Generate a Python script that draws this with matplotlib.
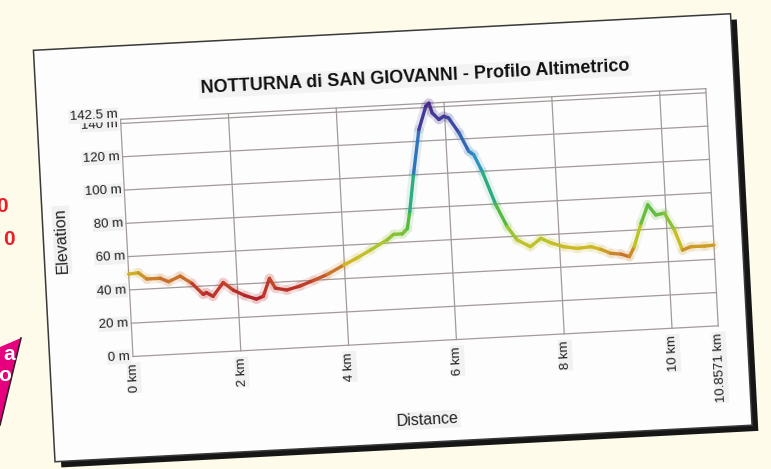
import numpy as np
import matplotlib
matplotlib.use('Agg')
import matplotlib.pyplot as plt
from matplotlib import transforms as mtrans
from matplotlib.collections import LineCollection
from matplotlib.patches import Polygon, Rectangle
from matplotlib.colors import LinearSegmentedColormap, Normalize

plt.rcParams['font.family'] = ['Liberation Sans', 'DejaVu Sans']

# ---------------- data ----------------
title = "NOTTURNA di SAN GIOVANNI - Profilo Altimetrico"
x_label = "Distance"
y_label = "Elevation"
total_km = 10.8571
max_elev = 142.5

distance_km = [0.00, 0.18, 0.33, 0.58, 0.73, 0.95, 1.16, 1.36, 1.42, 1.54,
               1.74, 1.92, 2.13, 2.34, 2.47, 2.60, 2.70, 2.91, 3.16, 3.42,
               3.67, 3.99, 4.24, 4.50, 4.82, 4.94, 5.10, 5.20, 5.26, 5.37,
               5.51, 5.66, 5.72, 5.77, 5.89, 5.98, 6.07, 6.25, 6.41, 6.50,
               6.64, 6.86, 7.05, 7.22, 7.46, 7.66, 7.84, 8.08, 8.33, 8.58,
               8.76, 8.94, 9.13, 9.28, 9.38, 9.53, 9.67, 9.81, 9.97, 10.14,
               10.27, 10.43, 10.68, 10.8571]
elevation_m = [49.5, 50.0, 46.0, 46.0, 43.7, 46.7, 42.0, 35.0, 36.0, 33.5,
               41.5, 36.6, 33.0, 30.5, 32.0, 42.5, 36.5, 35.0, 37.0, 40.0,
               43.0, 48.2, 52.0, 56.4, 62.0, 65.0, 65.0, 68.0, 78.0, 101.0,
               127.0, 140.8, 142.5, 136.6, 132.4, 134.2, 133.0, 123.7, 112.4, 110.2,
               99.9, 79.5, 66.0, 57.8, 53.3, 58.0, 55.0, 52.2, 50.8, 51.4,
               49.5, 46.8, 46.0, 44.2, 50.0, 63.9, 74.7, 68.4, 69.2, 58.8,
               46.5, 48.3, 48.2, 48.5]

y_ticks = [0, 20, 40, 60, 80, 100, 120, 140]
y_ticklabels = ["0 m", "20 m", "40 m", "60 m", "80 m", "100 m", "120 m", "140 m"]
x_ticks = [0, 2, 4, 6, 8, 10]
x_ticklabels = ["0 km", "2 km", "4 km", "6 km", "8 km", "10 km"]
end_label = "10.8571 km"
top_label = "142.5 m"

# elevation colour ramp (value, colour)
ramp_vals = [30, 38, 45, 50, 58, 68, 80, 95, 108, 122, 142.5]
ramp_cols = ['#b01f27', '#c0392b', '#c8722a', '#cfb824', '#b6c52b', '#6cbf3c',
             '#36b04e', '#2aa8a0', '#2c8ec8', '#3456ae', '#4b2885']

# ---------------- figure ----------------
W, H, DPI = 771, 469, 100
fig = plt.figure(figsize=(W / DPI, H / DPI), dpi=DPI)
fig.patch.set_facecolor('#fefbea')

ANGLE = 3.0
CX, CY = 392.75, 231.25
rot = mtrans.Affine2D().rotate_deg_around(CX, CY, ANGLE)
pix = mtrans.IdentityTransform()


def img(x, y):
    return (x, H - y)


# decorations on the left page edge
mag = Polygon([img(0, 347), img(21, 338), img(0, 425)], closed=True,
              facecolor='#e6007e', edgecolor='none', transform=pix, zorder=-5)
fig.add_artist(mag)
fig.add_artist(plt.Line2D([21, 0], [H - 338, H - 425], color='#3a1a2a', lw=1.2,
                          transform=pix, zorder=-5))
fig.text(15, H - 354, "a", color='white', fontsize=15, fontweight='bold', ha='right', va='center',
         transform=pix, zorder=-4)
fig.text(11, H - 375, "o", color='white', fontsize=15, fontweight='bold', ha='right', va='center',
         transform=pix, zorder=-4)
fig.text(15, H - 239, "0", color='#e8202a', fontsize=15, fontweight='bold', ha='right', va='center',
         transform=pix, zorder=-4)
fig.text(8, H - 206, "0", color='#e8202a', fontsize=15, fontweight='bold', ha='right', va='center',
         transform=pix, zorder=-4)

# card + shadow
card_w, card_h = 698, 412
cx0, cy0 = CX - card_w / 2, CY - card_h / 2
fig.add_artist(Rectangle((cx0 + 6, cy0 - 6), card_w, card_h, facecolor='#161616',
                         edgecolor='none', transform=pix + rot, zorder=-3))
fig.add_artist(Rectangle((cx0, cy0), card_w, card_h, facecolor='#fdfdfd',
                         edgecolor='#3a3a3a', lw=1.1, transform=pix + rot, zorder=-2))

# plot area (unrotated display px)
ax_x0, ax_y0, ax_w, ax_h = 127.15, 126.26, 586.0, 237.5
ax = fig.add_axes([ax_x0 / W, ax_y0 / H, ax_w / W, ax_h / H])
ax.set_zorder(5)
ax.set_xlim(0, total_km)
ax.set_ylim(0, max_elev)
ax.set_autoscale_on(False)
ax.axis('off')

T = ax.transData + rot


def off(dx, dy):
    return ax.transData + mtrans.ScaledTranslation(dx / DPI, dy / DPI, fig.dpi_scale_trans) + rot


grid_c = '#a39a9a'
for yv in y_ticks + [max_elev]:
    ax.plot([0, total_km], [yv, yv], color=grid_c, lw=0.9, transform=T, clip_on=False)
for xv in x_ticks + [total_km]:
    ax.plot([xv, xv], [0, max_elev], color=grid_c, lw=0.9, transform=T, clip_on=False)

lab_box = dict(boxstyle='square,pad=0.08', fc='#f1f1f1', ec='none')
for yv, lab in zip(y_ticks, y_ticklabels):
    ax.text(0, yv, lab, transform=off(-3, 0), ha='right', va='center', rotation=ANGLE,
            rotation_mode='anchor', fontsize=9.5, color='#222222', bbox=lab_box, clip_on=False)
ax.text(0, max_elev, top_label, transform=off(-3, 5), ha='right', va='center', rotation=ANGLE,
        rotation_mode='anchor', fontsize=9.5, color='#222222', bbox=lab_box, clip_on=False)
for xv, lab in zip(x_ticks + [total_km], x_ticklabels + [end_label]):
    ax.text(xv, 0, lab, transform=off(0, -7), ha='right', va='center', rotation=90 + ANGLE,
            rotation_mode='anchor', fontsize=9.5, color='#222222', bbox=lab_box, clip_on=False)

ax.text(0.5055, 1.113, title, transform=ax.transAxes + rot, ha='center', va='center',
        rotation=ANGLE, rotation_mode='anchor', fontsize=13, fontweight='bold', color='#111111',
        bbox=dict(boxstyle='square,pad=0.1', fc='#f3f3f3', ec='none'), clip_on=False)
ax.text(-0.1107, 0.505, y_label, transform=ax.transAxes + rot, ha='center', va='center',
        rotation=90 + ANGLE, rotation_mode='anchor', fontsize=11.5, color='#222222',
        bbox=lab_box, clip_on=False)
ax.text(0.497, -0.332, x_label, transform=ax.transAxes + rot, ha='center', va='center',
        rotation=ANGLE, rotation_mode='anchor', fontsize=11.5, color='#222222',
        bbox=lab_box, clip_on=False)

# coloured elevation profile
cmap = LinearSegmentedColormap.from_list(
    'elev', [((v - ramp_vals[0]) / (ramp_vals[-1] - ramp_vals[0]), c) for v, c in zip(ramp_vals, ramp_cols)])
norm = Normalize(ramp_vals[0], ramp_vals[-1])
pts = np.column_stack([distance_km, elevation_m])
segs = np.stack([pts[:-1], pts[1:]], axis=1)
mid = (np.array(elevation_m[:-1]) + np.array(elevation_m[1:])) / 2
cols = cmap(norm(mid))
halo = LineCollection(segs, colors=cols, linewidths=7, alpha=0.13, transform=T,
                      capstyle='round', joinstyle='round')
halo.set_clip_on(False)
ax.add_collection(halo, autolim=False)
lc = LineCollection(segs, colors=cols, linewidths=2.4, transform=T,
                    capstyle='round', joinstyle='round')
lc.set_clip_on(False)
ax.add_collection(lc, autolim=False)

fig.savefig('out.png', dpi=DPI, facecolor=fig.get_facecolor())
